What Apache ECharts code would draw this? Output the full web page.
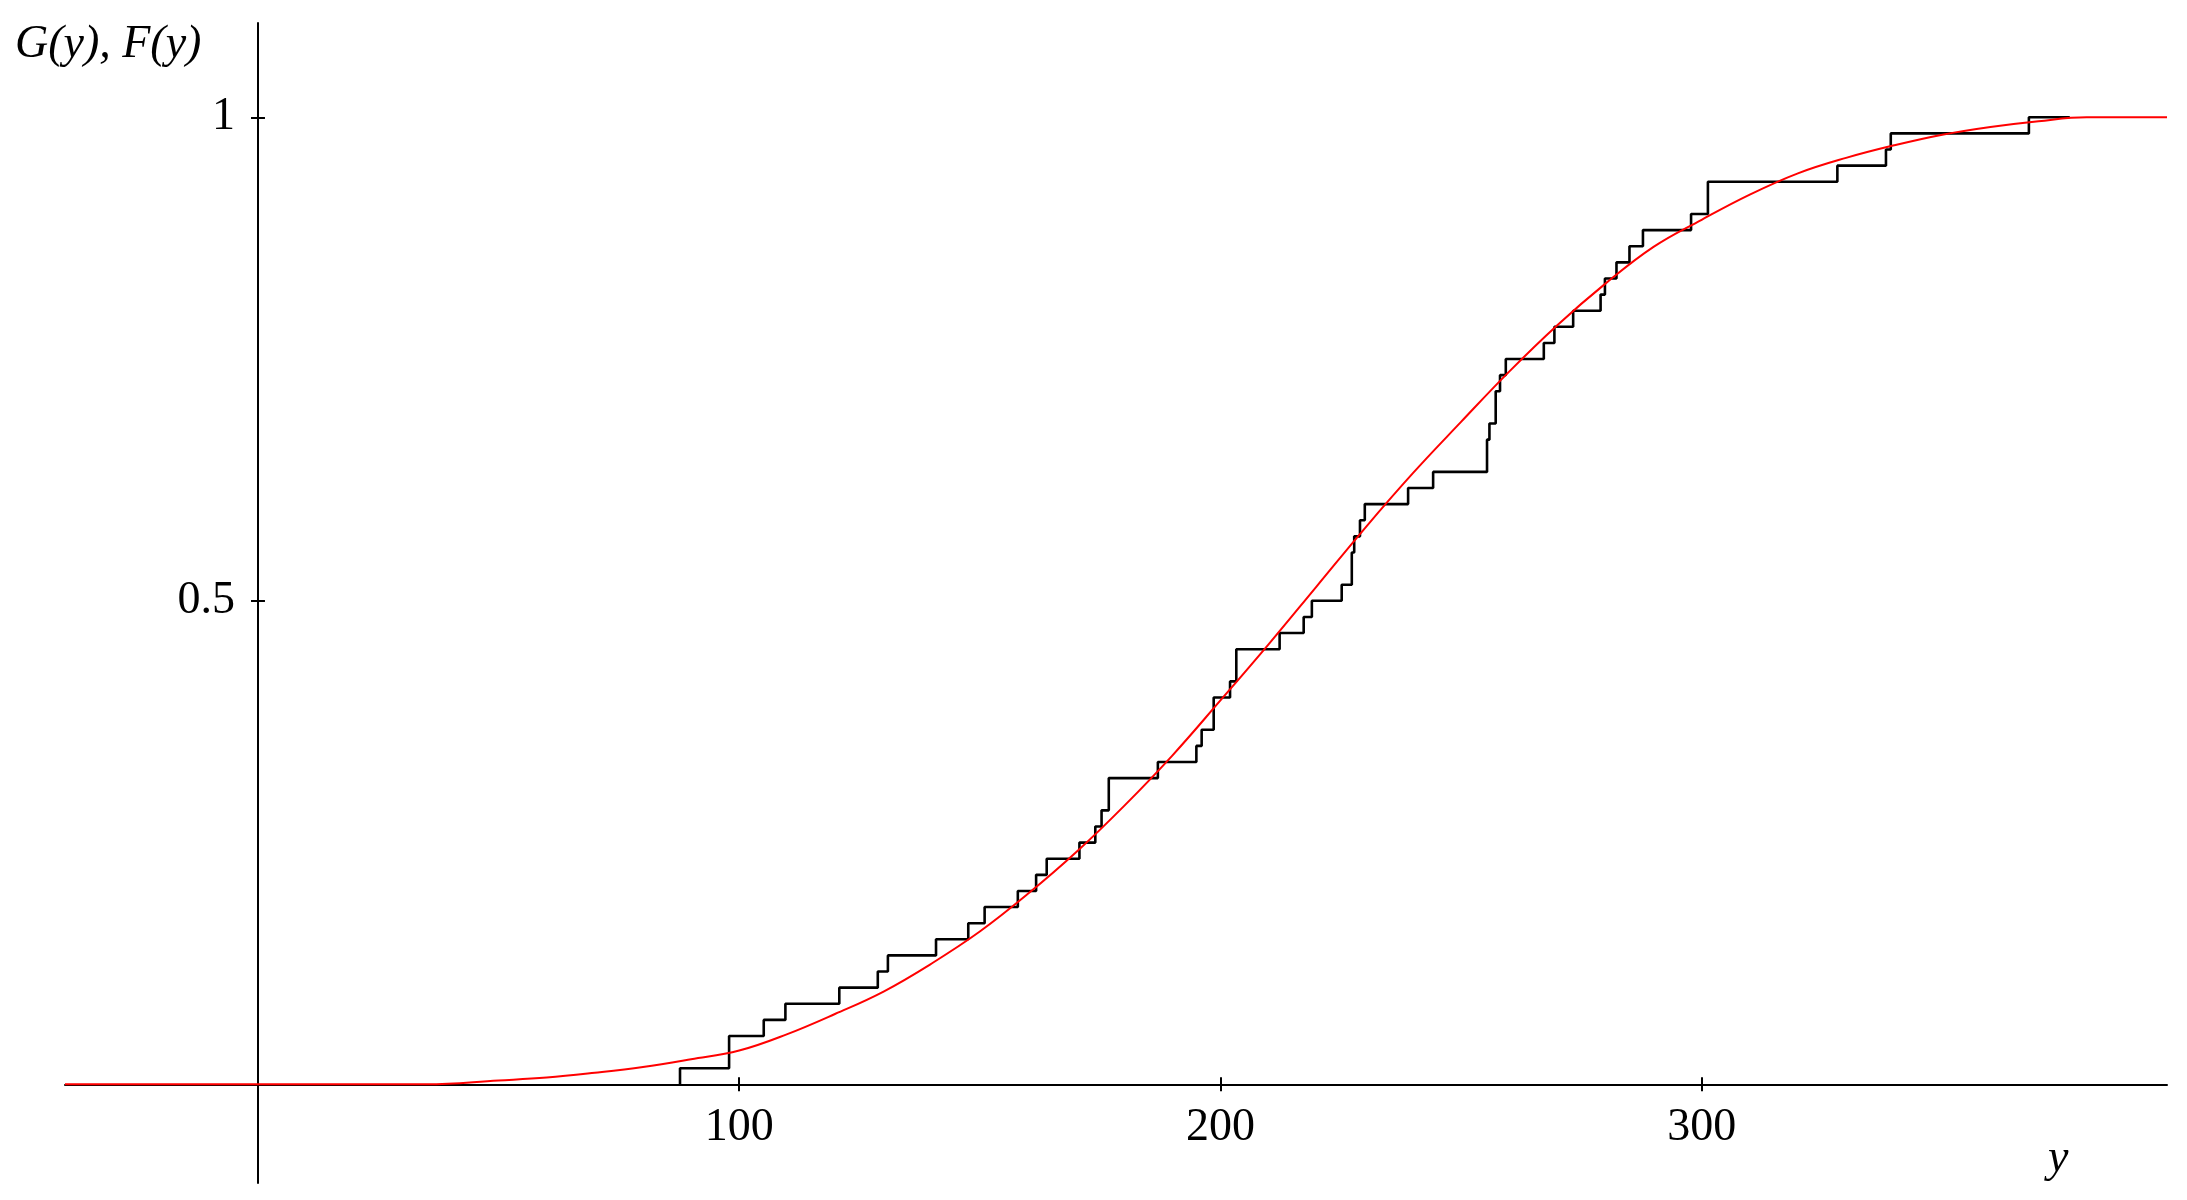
<!DOCTYPE html>
<html>
<head>
<meta charset="utf-8">
<script src="https://cdn.jsdelivr.net/npm/echarts@6/dist/echarts.min.js"></script>
<style>
  html, body { margin: 0; padding: 0; background: #FFF; }
  #myChart { width: 2187px; height: 1200px; }
</style>
</head>
<body>
<div id="myChart"></div>
<script>
  // empirical cdf G(y): jump positions and level (in 60ths) after each jump
  let stepX = [87.7, 97.9, 105.1, 109.6, 120.8, 128.8, 130.9, 140.9, 147.6, 151,
    157.9, 161.7, 163.9, 170.7, 174, 175.3, 176.8, 187, 195, 196.1,
    198.6, 202, 203.3, 212.3, 217.3, 219, 225.2, 227.3, 227.8, 229,
    230, 239, 244.2, 255.4, 255.9, 257.2, 258.1, 259.3, 267.2, 269.4,
    273.3, 279, 279.9, 282.3, 285, 287.8, 297.8, 301.3, 328.2, 338.3,
    339.3, 368];
  let stepLevel = [1, 3, 4, 5, 6, 7, 8, 9, 10, 11,
    12, 13, 14, 15, 16, 17, 19, 20, 21, 22,
    24, 25, 27, 28, 29, 30, 31, 33, 34, 35,
    36, 37, 38, 40, 41, 43, 44, 45, 46, 47,
    48, 49, 50, 51, 52, 53, 54, 56, 57, 58,
    59, 60];
  let stepEnd = 376.5;

  // fitted cdf F(y)
  let curveX = [-40.1, 0, 35, 50, 60, 70, 80, 90, 100, 110, 120, 130, 140, 150, 160, 170, 180, 190,
    200, 210, 220, 230, 240, 250, 260, 270, 280, 290, 300, 310, 320, 330, 340, 350, 360, 370, 380, 396.7];
  let curveF = [0, 0, 0, 0.004, 0.007, 0.012, 0.018, 0.026, 0.035, 0.052, 0.073, 0.096, 0.125, 0.158, 0.197, 0.24, 0.288, 0.34,
    0.397, 0.455, 0.515, 0.575, 0.632, 0.685, 0.737, 0.785, 0.828, 0.866, 0.894, 0.92, 0.942, 0.958, 0.971, 0.982, 0.99, 0.996, 1, 1];

  let xTicks = [100, 200, 300];
  let yTicks = [0.5, 1];

  let stepData = [[stepX[0], 0]];
  stepX.forEach((x, i) => stepData.push([x, stepLevel[i] / 60]));
  stepData.push([stepEnd, 1]);
  let curveData = curveX.map((x, i) => [x, curveF[i]]);

  let font = 'Liberation Serif';
  let lineStyle = { color: '#000', width: 2 };

  let option = {
    backgroundColor: '#FFF',
    animation: false,
    grid: { left: 65, right: 20, top: 23, bottom: 17, containLabel: false, outerBoundsMode: 'none' },
    xAxis: [
      {
        type: 'value', min: -40.1, max: 396.7,
        axisLine: { onZero: true, lineStyle: lineStyle },
        axisTick: { show: true, length: 7, customValues: xTicks, lineStyle: lineStyle },
        // labels sit on the grid edge, pull them up under the zero line
        axisLabel: { customValues: xTicks, color: '#000', fontFamily: font, fontSize: 46, margin: -78 },
        splitLine: { show: false }
      },
      { // second copy, only for the upper half of the cross ticks
        type: 'value', min: -40.1, max: 396.7, position: 'bottom',
        axisLine: { show: false, onZero: true },
        axisTick: { show: true, inside: true, length: 7, customValues: xTicks, lineStyle: lineStyle },
        axisLabel: { show: false },
        splitLine: { show: false }
      }
    ],
    yAxis: [
      {
        type: 'value', min: -0.102, max: 1.0975,
        axisLine: { show: true, onZero: true, lineStyle: lineStyle },
        axisTick: { show: true, length: 7, customValues: yTicks, lineStyle: lineStyle },
        axisLabel: { customValues: yTicks, color: '#000', fontFamily: font, fontSize: 46, margin: -170 },
        splitLine: { show: false }
      },
      {
        type: 'value', min: -0.102, max: 1.0975, position: 'left',
        axisLine: { show: false, onZero: true },
        axisTick: { show: true, inside: true, length: 7, customValues: yTicks, lineStyle: lineStyle },
        axisLabel: { show: false },
        splitLine: { show: false }
      }
    ],
    graphic: [
      {
        type: 'text', left: 15, top: 22,
        style: { text: 'G(y), F(y)', font: 'italic 46px "Liberation Serif"', fill: '#000' }
      },
      {
        type: 'text', left: 2048, top: 1136,
        style: { text: 'y', font: 'italic 46px "Liberation Serif"', fill: '#000' }
      }
    ],
    series: [
      {
        name: 'G(y)',
        type: 'line',
        step: 'end',
        symbol: 'none',
        data: stepData,
        lineStyle: { color: '#000', width: 2.6 },
        z: 3
      },
      {
        name: 'F(y)',
        type: 'line',
        smooth: 0.4,
        symbol: 'none',
        data: curveData,
        lineStyle: { color: '#FF0000', width: 2 },
        z: 4
      }
    ]
  };

  let myChart = echarts.init(document.getElementById('myChart'));
  myChart.setOption(option);
</script>
</body>
</html>
